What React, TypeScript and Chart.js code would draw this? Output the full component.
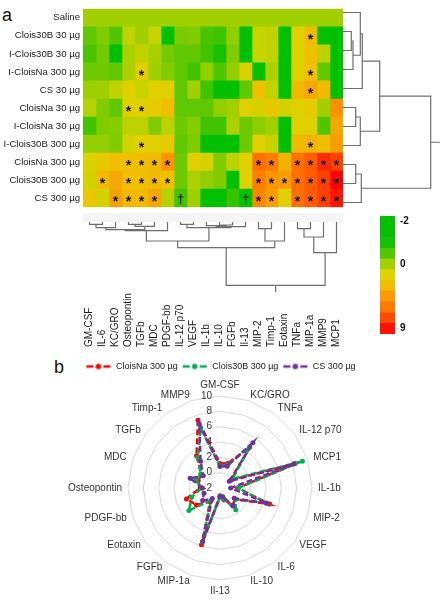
import React, { useEffect, useRef } from 'react';
import { Chart, registerables } from 'chart.js';

Chart.register(...registerables);

// ---------- DATA ----------
const rowLabels = ['Saline', 'Clois30B 30 µg', 'I-Clois30B 30 µg', 'I-CloisNa 300 µg', 'CS 30 µg', 'CloisNa 30 µg', 'I-CloisNa 30 µg', 'I-Clois30B 300 µg', 'CloisNa 300 µg', 'Clois30B 300 µg', 'CS 300 µg'];
const colLabels = ['GM-CSF', 'IL-6', 'KC/GRO', 'Osteopontin', 'TGFb', 'MDC', 'PDGF-bb', 'IL-12 p70', 'VEGF', 'IL-1b', 'IL-10', 'FGFb', 'Il-13', 'MIP-2', 'Timp-1', 'Eotaxin', 'TNFa', 'MIP-1a', 'MMP9', 'MCP1'];

const heatSaline = [0, 0, 0, 0, 0, 0, 0, 0, 0, 0, 0, 0, 0, 0, 0, 0, 0, 0, 0, 0];
const heatClois30B30 = [-1, -0.5, -1.2, 0.8, 0, 1, -2, -0.6, -0.5, -1.3, -1.4, -0.2, -2, 1, 0.8, -2, 2, 3.3, -2, -2];
const heatIClois30B30 = [-1.3, -0.7, -2, 0.3, 0.8, 0.2, -0.7, -1, -1, -1.4, -1.8, -0.5, -2, 1, 0.8, -2, 2, 3, 0.7, -2];
const heatICloisNa300 = [-0.8, -0.8, -1, 0.3, 2.2, 0, -0.5, -1, -1.4, -0.2, -1.2, -0.2, 1.8, -2, 0.2, -2, 2, 3, -1, -2];
const heatCS30 = [-0.1, 0, 0.8, 2, 1, 2, 2, -1, 0, -1.4, -2, -2, -1, 3, 0.8, -2, 3.3, 4, 3.3, -2];
const heatCloisNa30 = [0.5, -0.5, -1, 2, 2, 2.3, 3, -1, -1, -1, -0.2, 0, 2, 1.6, 2.5, 1.4, 2, 2.3, 0, 5];
const heatICloisNa30 = [-1.4, -0.5, -0.4, 0.7, 0.7, -0.5, 0.7, -0.8, -0.4, -1.4, -1.4, 0.3, -0.8, -0.3, 0, -2, 2, 2, -1.2, 4];
const heatIClois30B300 = [-0.2, -0.2, -0.5, 1.4, 2, 2, 2.3, -1, -0.5, -2, -2, -2, -0.8, 2, 1, -2, 3.3, 3.6, 3, 4.4];
const heatCloisNa300 = [1.7, 2.5, 3, 3, 3, 3.3, 4.8, -0.8, 2, 1.6, -0.5, 0.7, 2, 6, 5.6, 3.6, 6, 6.6, 8, 7.5];
const heatClois30B300 = [1.4, 3.3, 4, 3, 3, 3.3, 3, -0.8, 0.3, -0.2, -0.5, -2, 2, 5.6, 4.8, 4.4, 6, 6.6, 7.5, 9];
const heatCS300 = [2.5, 1.5, 4.3, 3.3, 3.3, 4, 0.5, -1.4, 0, -2, -2, -1.5, -2, 5.3, 4.4, 2, 6, 6.6, 7.5, 8.5];
const heatRows = [heatSaline, heatClois30B30, heatIClois30B30, heatICloisNa300, heatCS30, heatCloisNa30, heatICloisNa30, heatIClois30B300, heatCloisNa300, heatClois30B300, heatCS300];

// significance marks: [row, column, symbol]
const marks: [number, number, string][] = [
  [1, 17, '*'],
  [3, 4, '*'], [3, 17, '*'],
  [4, 17, '*'],
  [5, 3, '*'], [5, 4, '*'],
  [7, 4, '*'], [7, 17, '*'],
  [8, 3, '*'], [8, 4, '*'], [8, 5, '*'], [8, 6, '*'], [8, 13, '*'], [8, 14, '*'], [8, 16, '*'], [8, 17, '*'], [8, 18, '*'], [8, 19, '*'],
  [9, 1, '*'], [9, 3, '*'], [9, 4, '*'], [9, 5, '*'], [9, 6, '*'], [9, 13, '*'], [9, 14, '*'], [9, 15, '*'], [9, 16, '*'], [9, 17, '*'], [9, 18, '*'], [9, 19, '*'],
  [10, 2, '*'], [10, 3, '*'], [10, 4, '*'], [10, 5, '*'], [10, 7, '†'], [10, 12, '†'], [10, 13, '*'], [10, 14, '*'], [10, 16, '*'], [10, 17, '*'], [10, 18, '*'], [10, 19, '*'],
];

// dendrogram linkages: [childA, childB, height]; ids >= n refer to earlier merges
const rowMerges: [number, number, number][] = [
  [1, 2, 8.3], [11, 3, 10], [0, 12, 17.3], [13, 4, 19.3],
  [5, 6, 12.7], [15, 7, 17.3], [14, 16, 36.7],
  [8, 9, 12.7], [18, 10, 18.3], [17, 19, 87.7],
];
const rowRootStem = 96.7;
const colMerges: [number, number, number][] = [
  [0, 1, 2.3], [20, 2, 5.7], [3, 4, 2.3], [22, 5, 4.3], [21, 23, 7.7], [24, 6, 8.7],
  [7, 8, 2.3], [10, 11, 3.0], [9, 27, 3.7], [28, 12, 4.7], [26, 29, 5.7], [25, 30, 19],
  [13, 14, 6.7], [32, 15, 19], [31, 33, 25.7],
  [16, 17, 6.7], [35, 18, 15], [36, 19, 30.7], [34, 37, 63.3],
];
const colRootStem = 70;

// colour key
const keyTickLabels = ['-2', '', '', '', '0', '', '', '', '', '', '9'];
const keyColors = ['#00c000', '#06c000', '#14c200', '#50c800', '#a2d000', '#dcd400', '#f2bc00', '#ff9a00', '#ff7a00', '#ff4a00', '#ff1200'];

// radar
const radarLabels = ['GM-CSF', 'KC/GRO', 'TNFa', 'IL-12 p70', 'MCP1', 'IL-1b', 'MIP-2', 'VEGF', 'IL-6', 'IL-10', 'Il-13', 'MIP-1a', 'FGFb', 'Eotaxin', 'PDGF-bb', 'Osteopontin', 'MDC', 'TGFb', 'Timp-1', 'MMP9'];
const radarCloisNa = [1.2, 1.4, 4.6, -0.2, 8.3, 0.3, 4.8, 0.5, 0.8, -0.4, -0.8, 5.8, 0.2, 1.8, 2.6, 0.6, 1.0, 1.0, 3.2, 7.3];
const radarClois30B = [0.9, 1.2, 4.5, 0.0, 9.3, 0.4, 4.3, 0.5, 1.5, -0.5, -0.9, 5.4, 0.0, 3.0, 1.9, 0.4, 1.3, 1.1, 2.9, 6.2];
const radarCS = [0.8, 1.0, 5.3, -0.5, 8.1, -0.6, 4.4, 0.3, 0.9, -0.8, -1.0, 5.3, -0.3, 0.8, 0.2, 0.3, 2.1, 0.7, 2.3, 6.8];
const radarTicks = [-2, 0, 2, 4, 6, 8, 10];
const seriesNames = ['CloisNa 300 µg', 'Clois30B 300 µg', 'CS 300 µg'];

// ---------- STYLE ----------
const FONT = 'Arial, "Liberation Sans", sans-serif';
const heatStops = [-2, -1.4, -1, -0.5, 0, 1, 2, 3, 4, 5, 6, 7.5, 9];
const heatHex = ['#00c000', '#40c400', '#60c800', '#80cc00', '#a0d000', '#c8d400', '#e0d000', '#f0c000', '#f4a800', '#ff9000', '#ff7000', '#ff4000', '#ff0000'];
const seriesColors = ['#ff0000', '#00b050', '#7030a0'];
const dendroColor = '#6e6e6e';

function hexToRgb(h: string) {
  return [parseInt(h.slice(1, 3), 16), parseInt(h.slice(3, 5), 16), parseInt(h.slice(5, 7), 16)];
}
function heatColor(v: number) {
  if (v <= heatStops[0]) return heatHex[0];
  for (let i = 1; i < heatStops.length; i++) {
    if (v <= heatStops[i]) {
      const t = (v - heatStops[i - 1]) / (heatStops[i] - heatStops[i - 1]);
      const a = hexToRgb(heatHex[i - 1]);
      const b = hexToRgb(heatHex[i]);
      const c = a.map((x, k) => Math.round(x + (b[k] - x) * t));
      return `rgb(${c[0]},${c[1]},${c[2]})`;
    }
  }
  return heatHex[heatHex.length - 1];
}

function dendroPoints(n: number, merges: [number, number, number][], stem: number, horizontal: boolean) {
  const pos: number[] = [];
  const hgt: number[] = [];
  for (let i = 0; i < n; i++) { pos[i] = i; hgt[i] = 0; }
  const pts: { p: number | null; h: number | null }[] = [];
  merges.forEach(([a, b, h], k) => {
    pts.push({ p: pos[a], h: hgt[a] }, { p: pos[a], h }, { p: pos[b], h }, { p: pos[b], h: hgt[b] }, { p: null, h: null });
    pos[n + k] = (pos[a] + pos[b]) / 2;
    hgt[n + k] = h;
  });
  const root = n + merges.length - 1;
  pts.push({ p: pos[root], h: hgt[root] }, { p: pos[root], h: stem });
  return pts.map((q) => (horizontal ? { x: q.h, y: q.p } : { x: q.p, y: q.h }));
}

function legendMarker(color: string) {
  const c = document.createElement('canvas');
  c.width = 26; c.height = 8;
  const g = c.getContext('2d')!;
  g.strokeStyle = color; g.fillStyle = color; g.lineWidth = 2.5;
  g.beginPath(); g.moveTo(1, 4); g.lineTo(8, 4); g.moveTo(18, 4); g.lineTo(25, 4); g.stroke();
  g.beginPath(); g.arc(13, 4, 2.8, 0, Math.PI * 2); g.fill();
  return c;
}

const base = { responsive: false, animation: false as const, events: [] as any[] };

export default function App() {
  const heatRef = useRef<HTMLCanvasElement>(null);
  const rowDenRef = useRef<HTMLCanvasElement>(null);
  const colDenRef = useRef<HTMLCanvasElement>(null);
  const keyRef = useRef<HTMLCanvasElement>(null);
  const radarRef = useRef<HTMLCanvasElement>(null);

  useEffect(() => {
    const charts: Chart[] = [];

    const marksPlugin = {
      id: 'marks',
      afterDatasetsDraw(chart: any) {
        const { ctx } = chart;
        const xs = chart.scales.x, ys = chart.scales.y;
        ctx.save();
        ctx.fillStyle = '#111';
        ctx.textAlign = 'center';
        marks.forEach(([r, c, s]) => {
          const x = xs.getPixelForValue(c + 0.5);
          const y = ys.getPixelForValue(r);
          if (s === '*') {
            ctx.font = `bold 14px ${FONT}`;
            ctx.textBaseline = 'alphabetic';
            ctx.fillText(s, x, y + 8);
          } else {
            ctx.font = `bold 13px ${FONT}`;
            ctx.textBaseline = 'middle';
            ctx.fillText(s, x, y + 1);
          }
        });
        ctx.restore();
      },
    };

    charts.push(new Chart(heatRef.current!, {
      type: 'bar',
      data: {
        labels: rowLabels,
        datasets: colLabels.map((_, ci) => ({
          data: rowLabels.map(() => [ci, ci + 1] as [number, number]),
          backgroundColor: heatRows.map((row) => heatColor(row[ci])),
          borderWidth: 0,
          barPercentage: 1,
          categoryPercentage: 1,
          grouped: false,
        })),
      },
      options: {
        ...base,
        indexAxis: 'y',
        layout: { padding: { top: 3, bottom: 4, left: 0, right: 0 } },
        plugins: { legend: { display: false }, tooltip: { enabled: false } },
        scales: {
          x: { type: 'linear', min: 0, max: colLabels.length, display: false },
          y: {
            type: 'category',
            grid: { display: false, drawTicks: false },
            border: { display: false },
            ticks: { autoSkip: false, padding: 3, color: '#1a1a1a', font: { family: FONT, size: 9.6 } },
            afterFit: (s: any) => { s.width = 83; },
          },
        },
      } as any,
      plugins: [marksPlugin],
    }));

    const lineDs = (data: any[]) => ({
      data, showLine: true, pointRadius: 0, borderColor: dendroColor, borderWidth: 1.2, spanGaps: false, clip: false as any,
    });

    charts.push(new Chart(rowDenRef.current!, {
      type: 'scatter',
      data: { datasets: [lineDs(dendroPoints(rowLabels.length, rowMerges, rowRootStem, true))] },
      options: {
        ...base,
        layout: { padding: { top: 3, bottom: 4, left: 0, right: 0 } },
        plugins: { legend: { display: false }, tooltip: { enabled: false } },
        scales: {
          x: { type: 'linear', min: 0, max: 98, display: false },
          y: { type: 'linear', min: -0.5, max: rowLabels.length - 0.5, reverse: true, display: false },
        },
      } as any,
    }));

    const colLabelPlugin = {
      id: 'colLabels',
      beforeDatasetsDraw(chart: any) {
        const { ctx, chartArea } = chart;
        ctx.save();
        ctx.fillStyle = '#f5f5f5';
        ctx.fillRect(chartArea.left, 1, chartArea.right - chartArea.left, chartArea.top - 1);
        ctx.restore();
      },
      afterDraw(chart: any) {
        const { ctx } = chart;
        const xs = chart.scales.x;
        ctx.save();
        ctx.fillStyle = '#1a1a1a';
        ctx.font = `10px ${FONT}`;
        ctx.textAlign = 'left';
        ctx.textBaseline = 'middle';
        colLabels.forEach((lab, i) => {
          ctx.save();
          ctx.translate(xs.getPixelForValue(i), 135);
          ctx.rotate(-Math.PI / 2);
          ctx.fillText(lab, 0, 0);
          ctx.restore();
        });
        ctx.restore();
      },
    };

    charts.push(new Chart(colDenRef.current!, {
      type: 'scatter',
      data: { datasets: [lineDs(dendroPoints(colLabels.length, colMerges, colRootStem, false))] },
      options: {
        ...base,
        layout: { padding: { top: 10, bottom: 60, left: 0, right: 0 } },
        plugins: { legend: { display: false }, tooltip: { enabled: false } },
        scales: {
          x: { type: 'linear', min: -0.5, max: colLabels.length - 0.5, display: false },
          y: { type: 'linear', min: 0, max: colRootStem, reverse: true, display: false },
        },
      } as any,
      plugins: [colLabelPlugin],
    }));

    charts.push(new Chart(keyRef.current!, {
      type: 'bar',
      data: {
        labels: keyTickLabels,
        datasets: [{
          data: keyColors.map(() => [0, 1] as [number, number]),
          backgroundColor: keyColors,
          borderWidth: 0,
          barPercentage: 1,
          categoryPercentage: 1,
        }],
      },
      options: {
        ...base,
        indexAxis: 'y',
        layout: { padding: { top: 7, bottom: 8, left: 10, right: 0 } },
        plugins: { legend: { display: false }, tooltip: { enabled: false } },
        scales: {
          x: { type: 'linear', min: 0, max: 1, display: false },
          y: {
            type: 'category',
            position: 'right',
            grid: { display: false, drawTicks: false },
            border: { display: false },
            ticks: { autoSkip: false, padding: 5, color: '#111', font: { family: FONT, size: 10, weight: 'bold' } },
            afterFit: (s: any) => { s.width = 35; },
          },
        },
      } as any,
    }));

    const radarTextPlugin = {
      id: 'radarText',
      beforeDatasetsDraw(chart: any) {
        const { ctx } = chart;
        const s = chart.scales.r;
        ctx.save();
        ctx.fillStyle = '#333';
        ctx.font = `10px ${FONT}`;
        ctx.textAlign = 'right';
        ctx.textBaseline = 'middle';
        radarTicks.forEach((v) => {
          ctx.fillText(String(v), s.xCenter - 8, s.yCenter - s.getDistanceFromCenterForValue(v));
        });
        const n = radarLabels.length;
        radarLabels.forEach((lab, i) => {
          const p = s.getPointPosition(i, s.drawingArea + 6);
          const deg = (360 * i) / n;
          let align = 'center';
          let baseL = 'middle';
          if (deg === 0) baseL = 'bottom';
          else if (deg === 180) baseL = 'top';
          else if (deg < 180) align = 'left';
          else align = 'right';
          ctx.textAlign = align;
          ctx.textBaseline = baseL;
          ctx.fillText(lab, p.x, p.y);
        });
        ctx.restore();
      },
    };

    const radarSeries = [radarCloisNa, radarClois30B, radarCS];
    charts.push(new Chart(radarRef.current!, {
      type: 'radar',
      data: {
        labels: radarLabels,
        datasets: radarSeries.map((d, i) => ({
          label: seriesNames[i],
          data: d,
          borderColor: seriesColors[i],
          backgroundColor: seriesColors[i],
          pointBackgroundColor: seriesColors[i],
          pointBorderColor: seriesColors[i],
          borderDash: [6, 3],
          borderWidth: 2.5,
          pointRadius: 2.5,
          pointBorderWidth: 0,
          fill: false,
          order: radarSeries.length - 1 - i,
        })),
      },
      options: {
        ...base,
        layout: { padding: { top: 3, bottom: 20, left: 0, right: 0 } },
        elements: { line: { tension: 0 } },
        plugins: {
          tooltip: { enabled: false },
          legend: {
            display: true,
            position: 'top',
            labels: {
              usePointStyle: true,
              pointStyleWidth: 26,
              padding: 4,
              color: '#222',
              font: { family: FONT, size: 9 },
              sort: (a: any, b: any) => a.datasetIndex - b.datasetIndex,
              generateLabels: (chart: any) => {
                const items = (Chart.defaults.plugins.legend.labels as any).generateLabels(chart);
                items.forEach((it: any) => { it.pointStyle = legendMarker(seriesColors[it.datasetIndex]); });
                return items;
              },
            },
          },
          subtitle: { display: true, text: '', weight: 500, font: { size: 10 }, padding: { top: 1, bottom: 2 } },
        },
        scales: {
          r: {
            min: -2,
            max: 10,
            beginAtZero: false,
            ticks: { display: false, stepSize: 2 },
            pointLabels: { display: false },
            grid: { color: '#d9d9d9', lineWidth: 1 },
            angleLines: { display: false },
          },
        },
      } as any,
      plugins: [radarTextPlugin],
    }));

    return () => charts.forEach((c) => c.destroy());
  }, []);

  const abs = (l: number, t: number, w: number, h: number) => ({ position: 'absolute' as const, left: l, top: t, width: w, height: h });

  return (
    <div style={{ position: 'absolute', left: 0, top: 0, width: 441, height: 600, background: '#fff', fontFamily: FONT, color: '#111' }}>
      <div style={{ position: 'absolute', left: 2, top: 6, fontSize: 18, lineHeight: '18px' }}>a</div>
      <div style={{ position: 'absolute', left: 54, top: 358, fontSize: 18, lineHeight: '18px' }}>b</div>
      <canvas ref={heatRef} width={343} height={216} style={abs(0, 0, 343, 216)} />
      <canvas ref={rowDenRef} width={98} height={216} style={abs(343, 0, 98, 216)} />
      <canvas ref={colDenRef} width={260} height={140} style={abs(83, 212, 260, 140)} />
      <canvas ref={keyRef} width={60} height={140} style={abs(370, 205, 60, 140)} />
      <canvas ref={radarRef} width={441} height={245} style={abs(0, 355, 441, 245)} />
    </div>
  );
}
